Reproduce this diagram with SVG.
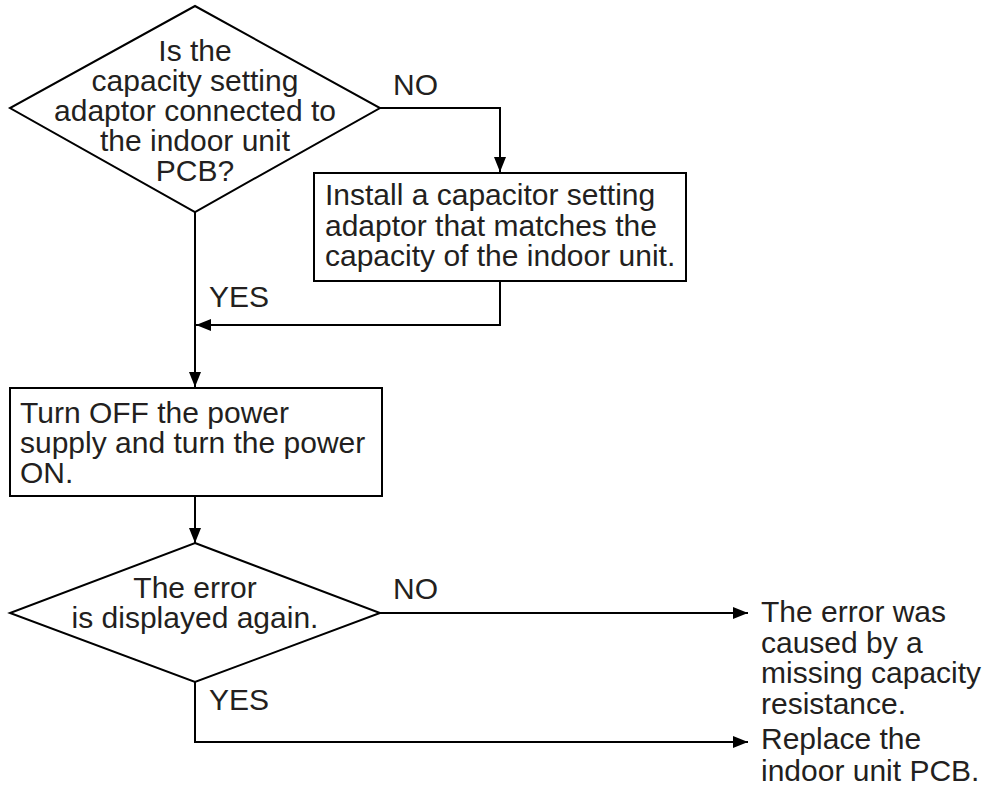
<svg xmlns="http://www.w3.org/2000/svg" width="987" height="790" viewBox="0 0 987 790">
  <style>
    .shape { fill: #ffffff; stroke: #000000; stroke-width: 2; }
    .wire { fill: none; stroke: #000000; stroke-width: 2; }
    text { font-family: "Liberation Sans", Arial, sans-serif; font-size: 30px; fill: #231f20; }
    .mid { text-anchor: middle; }
  </style>
  <defs>
    <marker id="arrow" viewBox="0 0 15 12" refX="15" refY="6" markerWidth="15" markerHeight="12" markerUnits="userSpaceOnUse" orient="auto">
      <path d="M0,0 L15,6 L0,12 Z" fill="#000000"/>
    </marker>
  </defs>
  <rect width="987" height="790" fill="#ffffff"/>

  <!-- connectors -->
  <g id="connectors">
    <polyline class="wire" points="380,108 500,108 500,172" marker-end="url(#arrow)"/>
    <polyline class="wire" points="500,281 500,325 196,325" marker-end="url(#arrow)"/>
    <line class="wire" x1="195" y1="212" x2="195" y2="387" marker-end="url(#arrow)"/>
    <line class="wire" x1="195" y1="496" x2="195" y2="543" marker-end="url(#arrow)"/>
    <line class="wire" x1="380" y1="613" x2="748" y2="613" marker-end="url(#arrow)"/>
    <polyline class="wire" points="195,682 195,742 748,742" marker-end="url(#arrow)"/>
    <text x="393" y="95">NO</text>
    <text x="209" y="307">YES</text>
    <text x="393" y="599">NO</text>
    <text x="209" y="710">YES</text>
  </g>

  <!-- decision: adaptor connected? -->
  <g id="q-adaptor">
    <polygon class="shape" points="195,6 380,108 195,212 10,108"/>
    <text class="mid" x="195" y="61">Is the</text>
    <text class="mid" x="195" y="91">capacity setting</text>
    <text class="mid" x="195" y="121">adaptor connected to</text>
    <text class="mid" x="195" y="151">the indoor unit</text>
    <text class="mid" x="195" y="181">PCB?</text>
  </g>

  <!-- action: install adaptor -->
  <g id="install-adaptor">
    <rect class="shape" x="314" y="173" width="372" height="108"/>
    <text x="325" y="205">Install a capacitor setting</text>
    <text x="325" y="236">adaptor that matches the</text>
    <text x="325" y="266">capacity of the indoor unit.</text>
  </g>

  <!-- action: power cycle -->
  <g id="power-cycle">
    <rect class="shape" x="10" y="388" width="372" height="108"/>
    <text x="20" y="423">Turn OFF the power</text>
    <text x="20" y="453">supply and turn the power</text>
    <text x="20" y="483">ON.</text>
  </g>

  <!-- decision: error again? -->
  <g id="q-error">
    <polygon class="shape" points="195,543 380,613 195,682 10,613"/>
    <text class="mid" x="195" y="598">The error</text>
    <text class="mid" x="195" y="628">is displayed again.</text>
  </g>

  <!-- result: missing resistance -->
  <g id="result-missing">
    <text x="761" y="622">The error was</text>
    <text x="761" y="653">caused by a</text>
    <text x="761" y="683">missing capacity</text>
    <text x="761" y="714">resistance.</text>
  </g>

  <!-- result: replace PCB -->
  <g id="result-replace">
    <text x="761" y="749">Replace the</text>
    <text x="761" y="781">indoor unit PCB.</text>
  </g>
</svg>
